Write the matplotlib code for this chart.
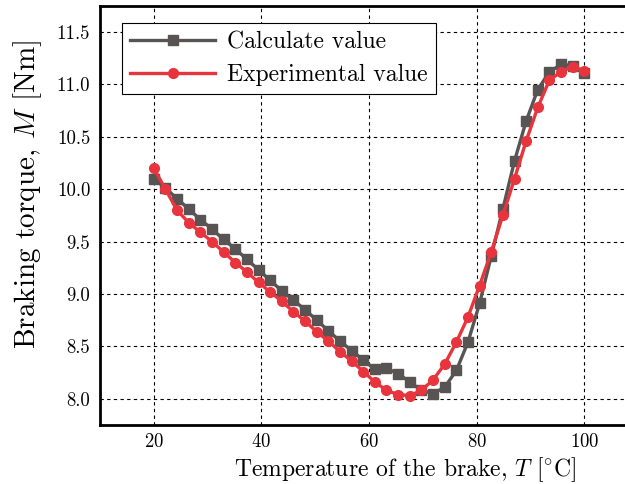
import matplotlib
matplotlib.use("Agg")
import matplotlib.pyplot as plt

plt.rcParams["font.family"] = "serif"
plt.rcParams["font.serif"] = ["cmr10", "DejaVu Serif"]
plt.rcParams["mathtext.fontset"] = "cm"
plt.rcParams["axes.unicode_minus"] = False
plt.rcParams["axes.formatter.use_mathtext"] = True

# temperature of the brake [degC]
temperature = [
    20.00, 22.16, 24.32, 26.49, 28.65, 30.81, 32.97, 35.14, 37.30, 39.46,
    41.62, 43.78, 45.95, 48.11, 50.27, 52.43, 54.59, 56.76, 58.92, 61.08,
    63.24, 65.41, 67.57, 69.73, 71.89, 74.05, 76.22, 78.38, 80.54, 82.70,
    84.86, 87.03, 89.19, 91.35, 93.51, 95.68, 97.84, 100.00,
]

# braking torque [Nm]
calculated = [
    10.10, 10.01, 9.91, 9.81, 9.71, 9.62, 9.52, 9.43, 9.33, 9.23,
    9.13, 9.03, 8.94, 8.85, 8.75, 8.65, 8.55, 8.46, 8.37, 8.28,
    8.29, 8.24, 8.16, 8.08, 8.05, 8.11, 8.27, 8.54, 8.91, 9.36,
    9.81, 10.27, 10.65, 10.95, 11.12, 11.19, 11.18, 11.11,
]
experimental = [
    10.20, 10.00, 9.80, 9.68, 9.59, 9.50, 9.40, 9.30, 9.21, 9.11,
    9.02, 8.93, 8.83, 8.74, 8.64, 8.55, 8.45, 8.36, 8.26, 8.16,
    8.08, 8.04, 8.03, 8.08, 8.18, 8.33, 8.54, 8.78, 9.08, 9.40,
    9.75, 10.10, 10.46, 10.78, 11.04, 11.12, 11.17, 11.13,
]

fig = plt.figure(figsize=(6.25, 4.84), dpi=100)
# the original figure is cut off on the right, so the axes run past the edge
ax = fig.add_axes([0.16, 0.122, 0.861, 0.866])

ax.plot(temperature, calculated, color="#575453", lw=2.4, marker="s",
        ms=6.5, label="Calculate value")
ax.plot(temperature, experimental, color="#e8353d", lw=2.4, marker="o",
        ms=7, label="Experimental value")

ax.set_xlim(10, 110)
ax.set_ylim(7.75, 11.75)
ax.set_xticks([20, 40, 60, 80, 100])
ax.set_yticks([8.0, 8.5, 9.0, 9.5, 10.0, 10.5, 11.0, 11.5])
ax.set_yticklabels(["8.0", "8.5", "9.0", "9.5", "10.0", "10.5", "11.0", "11.5"])
ax.tick_params(length=0, labelsize=13.5)
ax.tick_params(axis="y", pad=7)
ax.tick_params(axis="x", pad=6)

ax.grid(True, color="black", linestyle=(0, (3, 3)), linewidth=0.8)
ax.set_axisbelow(True)
for s in ax.spines.values():
    s.set_linewidth(2)

ax.set_xlabel(r"Temperature of the brake, $T$ [$^{\circ}$C]", fontsize=17)
ax.xaxis.set_label_coords(0.568, -0.072)
ax.set_ylabel(r"Braking torque, $M$ [Nm]", fontsize=21)
ax.yaxis.set_label_coords(-0.104, 0.55)

leg = ax.legend(loc="upper left", bbox_to_anchor=(0.041, 0.959),
                borderaxespad=0, fontsize=17, handlelength=3.6,
                handletextpad=0.5, fancybox=False, framealpha=1,
                edgecolor="black", numpoints=1, borderpad=0.35,
                labelspacing=0.45)
leg.get_frame().set_linewidth(0.8)

fig.savefig("out.png", dpi=100)
